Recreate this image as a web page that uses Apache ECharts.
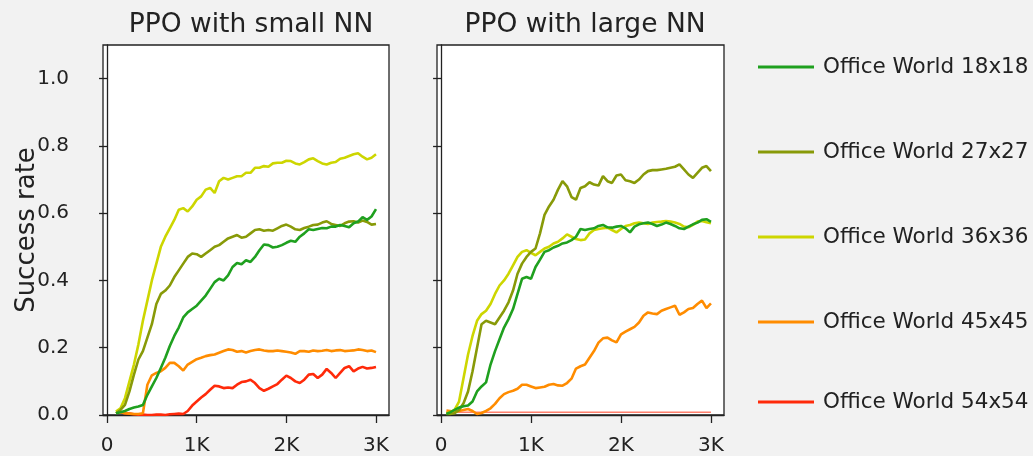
<!DOCTYPE html>
<html>
<head>
<meta charset="utf-8">
<script src="https://cdn.jsdelivr.net/npm/echarts@6/dist/echarts.min.js"></script>
<style>
  html, body { margin: 0; padding: 0; background: #f2f2f2; }
  #chart { width: 1033px; height: 456px; }
</style>
</head>
<body>
<div id="chart"></div>
<script>
// training steps (x) for each panel
const leftSteps = [100, 150, 200, 250, 300, 350, 400, 450, 500, 550, 600, 650, 700, 750, 800, 850, 900, 950,
  1000, 1050, 1100, 1150, 1200, 1250, 1300, 1350, 1400, 1450, 1500, 1550, 1600, 1650, 1700, 1750, 1800, 1850,
  1900, 1950, 2000, 2050, 2100, 2150, 2200, 2250, 2300, 2350, 2400, 2450, 2500, 2550, 2600, 2650, 2700, 2750,
  2800, 2850, 2900, 2950, 3000];
const rightSteps = [60, 100, 150, 200, 250, 300, 350, 400, 450, 500, 550, 600, 650, 700, 750, 800, 850, 900, 950,
  1000, 1050, 1100, 1150, 1200, 1250, 1300, 1350, 1400, 1450, 1500, 1550, 1600, 1650, 1700, 1750, 1800, 1850,
  1900, 1950, 2000, 2050, 2100, 2150, 2200, 2250, 2300, 2350, 2400, 2450, 2500, 2550, 2600, 2650, 2700, 2750,
  2800, 2850, 2900, 2950, 3000];
const redFlatSteps = [60, 3000];

const seriesNames = ['Office World 18x18', 'Office World 27x27', 'Office World 36x36', 'Office World 45x45', 'Office World 54x54'];
const seriesColors = ['#1fa01f', '#889a08', '#cdd600', '#ff8c00', '#ff2a0a'];

// PPO with small NN
const small18 = [0.005, 0.008, 0.012, 0.018, 0.022, 0.025, 0.03, 0.06, 0.085, 0.11, 0.14, 0.17, 0.205, 0.235, 0.26, 0.29, 0.305, 0.315,
  0.325, 0.34, 0.355, 0.375, 0.395, 0.405, 0.40, 0.415, 0.44, 0.452, 0.448, 0.46, 0.455, 0.47, 0.49, 0.507, 0.505, 0.498,
  0.50, 0.505, 0.512, 0.518, 0.515, 0.53, 0.54, 0.552, 0.55, 0.553, 0.556, 0.555, 0.56, 0.56, 0.565, 0.562, 0.558, 0.57,
  0.575, 0.588, 0.58, 0.59, 0.612];
const small27 = [0.005, 0.015, 0.03, 0.07, 0.12, 0.165, 0.19, 0.23, 0.27, 0.33, 0.36, 0.37, 0.385, 0.41, 0.43, 0.45, 0.47, 0.48,
  0.478, 0.47, 0.48, 0.49, 0.50, 0.505, 0.515, 0.525, 0.53, 0.535, 0.527, 0.53, 0.54, 0.55, 0.552, 0.548, 0.55, 0.548,
  0.555, 0.562, 0.566, 0.56, 0.552, 0.55, 0.556, 0.56, 0.565, 0.566, 0.572, 0.576, 0.568, 0.565, 0.562, 0.57, 0.575, 0.576,
  0.572, 0.578, 0.574, 0.566, 0.568];
const small36 = [0.01, 0.02, 0.05, 0.10, 0.15, 0.21, 0.28, 0.34, 0.40, 0.45, 0.50, 0.53, 0.555, 0.58, 0.61, 0.615, 0.605, 0.62,
  0.64, 0.65, 0.67, 0.675, 0.66, 0.695, 0.705, 0.70, 0.705, 0.71, 0.71, 0.72, 0.72, 0.735, 0.735, 0.74, 0.738, 0.748,
  0.75, 0.75, 0.756, 0.755, 0.748, 0.745, 0.752, 0.76, 0.763, 0.755, 0.748, 0.745, 0.75, 0.752, 0.762, 0.765, 0.77, 0.775,
  0.778, 0.768, 0.76, 0.765, 0.775];
const small45 = [0.01, 0.008, 0.005, 0.004, 0.003, 0.003, 0.005, 0.09, 0.118, 0.125, 0.13, 0.14, 0.155, 0.155, 0.145, 0.132, 0.15, 0.158,
  0.166, 0.17, 0.175, 0.178, 0.18, 0.185, 0.19, 0.195, 0.193, 0.188, 0.19, 0.186, 0.19, 0.193, 0.195, 0.192, 0.19, 0.19,
  0.192, 0.19, 0.188, 0.186, 0.182, 0.19, 0.19, 0.188, 0.192, 0.19, 0.191, 0.193, 0.19, 0.192, 0.193, 0.19, 0.191, 0.192,
  0.195, 0.193, 0.19, 0.192, 0.187];
const small54 = [0.01, 0.008, 0.005, 0.004, 0.002, 0.001, 0.001, 0.0, 0.0, 0.001, 0.001, 0.0, 0.002, 0.003, 0.004, 0.003, 0.012, 0.028,
  0.04, 0.052, 0.062, 0.075, 0.087, 0.085, 0.08, 0.082, 0.08, 0.09, 0.098, 0.10, 0.105, 0.095, 0.08, 0.072, 0.078, 0.085,
  0.092, 0.105, 0.117, 0.11, 0.10, 0.095, 0.105, 0.12, 0.122, 0.11, 0.12, 0.137, 0.125, 0.11, 0.125, 0.14, 0.145, 0.13,
  0.138, 0.143, 0.138, 0.14, 0.143];

// PPO with large NN
const large18 = [0.003, 0.008, 0.015, 0.022, 0.026, 0.028, 0.04, 0.07, 0.085, 0.097, 0.15, 0.19, 0.225, 0.26, 0.285, 0.315, 0.36, 0.405, 0.41,
  0.405, 0.44, 0.462, 0.485, 0.49, 0.498, 0.503, 0.51, 0.513, 0.52, 0.53, 0.553, 0.55, 0.553, 0.555, 0.562, 0.565, 0.558,
  0.557, 0.56, 0.562, 0.555, 0.543, 0.56, 0.567, 0.57, 0.572, 0.568, 0.562, 0.566, 0.572, 0.568, 0.562, 0.555, 0.553, 0.56,
  0.567, 0.572, 0.58, 0.582, 0.574];
const large27 = [0.003, 0.003, 0.005, 0.015, 0.035, 0.07, 0.13, 0.20, 0.27, 0.28, 0.275, 0.27, 0.29, 0.31, 0.335, 0.37, 0.42, 0.45, 0.47,
  0.485, 0.495, 0.54, 0.595, 0.62, 0.64, 0.67, 0.695, 0.68, 0.648, 0.64, 0.675, 0.68, 0.692, 0.685, 0.682, 0.71, 0.695,
  0.69, 0.712, 0.715, 0.698, 0.695, 0.69, 0.70, 0.715, 0.725, 0.728, 0.728, 0.73, 0.732, 0.735, 0.738, 0.745, 0.73, 0.715,
  0.705, 0.72, 0.735, 0.74, 0.725];
const large36 = [0.005, 0.008, 0.015, 0.04, 0.11, 0.18, 0.235, 0.28, 0.30, 0.31, 0.33, 0.36, 0.385, 0.40, 0.42, 0.445, 0.47, 0.485, 0.49,
  0.482, 0.475, 0.485, 0.495, 0.50, 0.51, 0.515, 0.525, 0.537, 0.53, 0.523, 0.52, 0.522, 0.54, 0.55, 0.553, 0.555, 0.557,
  0.55, 0.543, 0.553, 0.562, 0.565, 0.57, 0.572, 0.57, 0.568, 0.572, 0.574, 0.575, 0.577, 0.575, 0.572, 0.568, 0.56, 0.558,
  0.565, 0.575, 0.577, 0.573, 0.57];
const large45 = [0.013, 0.012, 0.01, 0.012, 0.015, 0.018, 0.012, 0.003, 0.006, 0.012, 0.02, 0.033, 0.05, 0.062, 0.068, 0.072, 0.078, 0.09, 0.09,
  0.085, 0.08, 0.082, 0.084, 0.09, 0.092, 0.088, 0.087, 0.095, 0.108, 0.138, 0.145, 0.15, 0.17, 0.19, 0.215, 0.228, 0.23,
  0.222, 0.216, 0.24, 0.248, 0.255, 0.262, 0.275, 0.295, 0.305, 0.302, 0.30, 0.31, 0.315, 0.32, 0.325, 0.298, 0.305, 0.315,
  0.318, 0.33, 0.34, 0.318, 0.332];
const large54 = [0.008, 0.008];

const xTicks = [0, 1000, 2000, 3000];
const yTicks = [0, 0.2, 0.4, 0.6, 0.8, 1.0];

const pairs = (xs, ys) => xs.map((x, i) => [x, ys[i]]);

const font = 'DejaVu Sans';
const ink = '#222';

const chart = echarts.init(document.getElementById('chart'));

const makeX = (gridIndex) => ({
  type: 'value',
  gridIndex,
  min: -45,
  max: 3145,
  splitLine: { show: false },
  axisLine: { lineStyle: { color: ink, width: 1.3 } },
  axisTick: { length: 8, lineStyle: { color: ink, width: 1.3 }, customValues: xTicks },
  axisLabel: {
    customValues: xTicks,
    fontFamily: font, fontSize: 20, color: ink, margin: 21,
    formatter: v => v === 0 ? '0' : (v / 1000) + 'K'
  }
});

const makeY = (gridIndex, showLabels) => ({
  type: 'value',
  gridIndex,
  min: 0,
  max: 1.1,
  splitLine: { show: false },
  axisLine: { show: true, lineStyle: { color: ink, width: 1.3 } },
  axisTick: { show: true, length: 8, lineStyle: { color: ink, width: 1.3 }, customValues: yTicks },
  axisLabel: {
    show: showLabels,
    customValues: yTicks,
    fontFamily: font, fontSize: 20, color: ink, margin: 34,
    formatter: v => v.toFixed(1)
  },
  name: showLabels ? 'Success rate' : '',
  nameLocation: 'middle',
  nameGap: 63,
  nameMoveOverlap: false,
  nameTextStyle: { fontFamily: font, fontSize: 26, color: ink }
});

const makeLine = (name, color, xs, ys, panel, extra) => Object.assign({
  name,
  type: 'line',
  xAxisIndex: panel,
  yAxisIndex: panel,
  data: pairs(xs, ys),
  symbol: 'none',
  showSymbol: false,
  lineStyle: { color, width: 2.6 },
  itemStyle: { color },
  z: 3
}, extra || {});

const legendTops = [56, 141, 226, 311, 391];

const option = {
  backgroundColor: '#f2f2f2',
  animation: false,
  textStyle: { fontFamily: font },
  title: [
    { text: 'PPO with small NN', left: 246, top: 7, textAlign: 'center',
      textStyle: { fontFamily: font, fontSize: 26.5, fontWeight: 'normal', color: ink } },
    { text: 'PPO with large NN', left: 580, top: 7, textAlign: 'center',
      textStyle: { fontFamily: font, fontSize: 26.5, fontWeight: 'normal', color: ink } }
  ],
  legend: seriesNames.map((name, i) => ({
    data: [name],
    left: 758,
    top: legendTops[i],
    padding: 0,
    icon: 'rect',
    itemWidth: 56,
    itemHeight: 3,
    textStyle: { fontFamily: font, fontSize: 21.5, color: ink, padding: [0, 0, 0, 4] }
  })),
  grid: [
    { left: 103, top: 45, width: 286, height: 371, show: true, backgroundColor: '#fff', borderColor: ink, borderWidth: 1.3 },
    { left: 437, top: 45, width: 287, height: 371, show: true, backgroundColor: '#fff', borderColor: ink, borderWidth: 1.3 }
  ],
  xAxis: [makeX(0), makeX(1)],
  yAxis: [makeY(0, true), makeY(1, false)],
  series: [
    makeLine(seriesNames[4], seriesColors[4], leftSteps, small54, 0),
    makeLine(seriesNames[3], seriesColors[3], leftSteps, small45, 0),
    makeLine(seriesNames[2], seriesColors[2], leftSteps, small36, 0),
    makeLine(seriesNames[1], seriesColors[1], leftSteps, small27, 0),
    makeLine(seriesNames[0], seriesColors[0], leftSteps, small18, 0),
    makeLine(seriesNames[4], seriesColors[4], redFlatSteps, large54, 1, { lineStyle: { color: seriesColors[4], width: 1.5, opacity: 0.6 } }),
    makeLine(seriesNames[3], seriesColors[3], rightSteps, large45, 1),
    makeLine(seriesNames[2], seriesColors[2], rightSteps, large36, 1),
    makeLine(seriesNames[1], seriesColors[1], rightSteps, large27, 1),
    makeLine(seriesNames[0], seriesColors[0], rightSteps, large18, 1)
  ]
};

chart.setOption(option);

window.addEventListener('resize', () => chart.resize());
</script>
</body>
</html>
